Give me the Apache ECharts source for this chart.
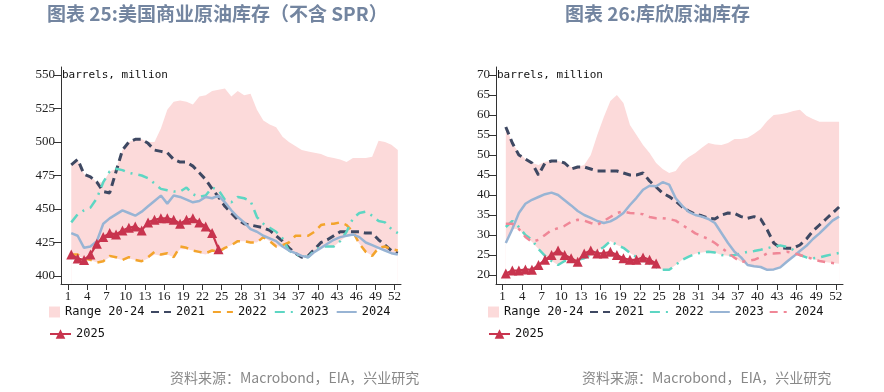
<!DOCTYPE html>
<html><head><meta charset="utf-8">
<script src="https://cdn.jsdelivr.net/npm/echarts@6/dist/echarts.min.js"></script>
<style>html,body{margin:0;padding:0;background:#fff}#c{width:884px;height:392px}</style>
</head><body><div id="c"></div>
<script>
// ---------- data ----------
const xTickLabels = [1,4,7,10,13,16,19,22,25,28,31,34,37,40,43,46,49,52];
const yTicksLeft = [400,425,450,475,500,525,550];
const yTicksRight = [20,25,30,35,40,45,50,55,60,65,70];

// Chart 25: US commercial crude stocks (ex SPR), million barrels
const L_rangeLow = [415,415,413,412,410,411,414,413,412,413,412,411,413,416,415,416,414,420,420,419,417,416,418,418,
  421,423,426,426,425,425,429,426,422,422,419,416,414,414,418,421,422,422,426,430,431,424,418,415,421,419,417,416];
const L_rangeHigh = [483,487,476,474,470,470,478,480,494,500,502,502,500,500,510,524,530,531,530,528,534,535,538,539,
  540,534,538,535,536,524,516,513,511,504,500,497,494,493,492,491,489,488,487,485,488,488,488,489,501,500,498,494];
const L_2021 = [483,487,476,474,470,463,462,478,494,500,502,502,499,494,493,492,487,485,485,482,477,472,465,459,
  452,447,442,439,438,437,436,434,430,426,421,417,414,415,420,425,427,430,433,433,433,433,432,432,427,423,419,417];
const L_2022 = [416,416,413,412,410,411,415,414,412,414,412,411,414,418,416,417,414,422,421,419,418,417,419,418,
  421,423,426,426,425,425,429,426,422,423,425,430,430,430,433,438,439,439,440,438,433,424,418,415,421,422,420,419];
const L_2023 = [440,446,449,451,458,470,478,480,479,477,476,475,473,469,465,464,463,463,466,461,459,460,466,464,
  457,455,459,458,456,444,439,436,433,428,419,416,415,414,419,422,422,422,426,433,443,447,448,445,441,440,435,432];
const L_2024 = [432,430,421,422,426,439,443,446,449,447,445,448,452,456,460,454,460,459,457,455,456,459,458,460,
  455,449,444,440,435,433,430,428,426,422,419,417,415,414,418,421,424,427,429,430,431,429,425,423,421,419,417,416];
const L_2025 = [416,413,412,416,424,429,432,431,434,436,437,434,440,442,443,443,442,439,442,443,440,437,432,420];

// Chart 26: Cushing crude stocks, million barrels
const R_rangeLow = [28,31.5,31.5,29.5,28.3,26.5,24.8,23.5,22.5,23.5,23.8,23.8,24.2,25,26,27,28.5,27.5,26.8,25.5,
  24.5,23.8,22.8,22,21.3,21.3,22.5,23.8,24.6,25.3,25.6,25.8,25.6,25,24.8,24.3,23.3,22.5,22.2,22,
  21.3,21.4,21.9,23.3,24.6,25,24.4,24,23.5,23.2,23,22.8];
const R_rangeHigh = [57,53,50.5,49,48,47.5,48.3,48.5,48.5,48,47,47,47.5,50,55,59.5,63.5,65,63,57.5,
  55,52.5,50.5,48,46.5,45.5,46,48.2,49.5,50.5,51.8,53,52.6,52.5,53,54,54,54.3,55.3,56.5,
  58.5,60,60.2,60.5,61,61.3,59.8,59,58.3,58.3,58.3,58.3];
const R_2021 = [57,53,50,49,48,45,48,48.5,48.5,48,46.5,47,47,46.5,46,46,46,46,45.5,45,
  45,45.5,43.5,42,40.5,39.6,38.5,37,36,35.2,34.8,34.2,34,35,35.5,35.4,34.6,34.2,34.6,34,
  31.3,28,26.8,26.7,26.7,27.5,29,31,32.5,34,35.5,37];
const R_2022 = [32,33.5,32,30,28.8,26.5,24.8,23.5,22.5,23.5,23.8,23.8,24.2,25,26,27,28.5,27.5,26.8,25.5,
  24.5,23.8,22.8,22,21.3,21.3,22.5,23.8,24.6,25.3,25.6,25.8,25.6,25,24.8,25,25.4,25.8,26,26.3,
  26.7,27.1,27.4,27,26.3,25,24.4,24.2,24.4,24.8,25.2,25.5];
const R_2023 = [28,31.5,35.5,37.8,38.8,39.5,40.2,40.6,40,38.7,37.4,36,35,34.3,33.5,33,33.4,34.3,35.5,37.5,
  39.3,41.3,42.3,42.2,43.2,42.6,39.2,37.3,35.8,35,34.6,34,33,30.5,28,25.8,24.4,22.5,22.2,22,
  21.3,21.4,21.9,23.3,24.6,26,27.3,29,30.4,32,33.6,34.6];
const R_2024 = [32.8,32.8,31.5,29.5,28.3,28.8,30,31.2,31.7,32.3,33.3,33.8,33.6,33,32.5,33.5,34.5,35.5,35.9,35.5,
  35.4,35.2,34.5,34.2,34.2,34,33.6,32.5,31.5,30.4,29.7,29,28,26.8,25.6,24.3,23.3,23.5,23.8,24.5,
  25.4,25.4,25.5,25.8,25.5,25,24.5,24,23.5,23.2,23,22.8];
const R_2025 = [20.4,21.1,21.1,21.4,21.3,22.5,23.8,25,26.1,25,24.2,23.3,25.4,26.1,25.4,25.4,25.8,25,24.2,23.8,23.8,24.4,23.8,22.9];

// ---------- styles ----------
const C = {
  range:'#fcdada', navy:'#3e4862', orange:'#f3a42c', teal:'#5dd6c3', blue:'#98b4d4', pink:'#f08797', red:'#c8344e'
};
const pairs = a => a.map((v,i)=>[i+1,v]);
const tickPos = xTickLabels.map(v=>v-0.5);
const axisFont = {fontFamily:'Liberation Serif', fontSize:13, color:'#222'};
const legFont = {fontFamily:'DejaVu Sans Mono', fontSize:12, color:'#111'};

function xAxis(gi, min, max){
  return {type:'value', gridIndex:gi, min:min, max:max, z:10,
    axisLine:{show:true, onZero:false, lineStyle:{color:'#333', width:1}},
    axisTick:{show:true, length:6, customValues:tickPos, lineStyle:{color:'#333'}},
    axisLabel:Object.assign({customValues:tickPos, margin:6, formatter:v=>String(Math.round(v+0.5))}, axisFont),
    splitLine:{show:false}};
}
function yAxis(gi, min, max, ticks){
  return {type:'value', gridIndex:gi, min:min, max:max, z:10,
    axisLine:{show:true, onZero:false, lineStyle:{color:'#333', width:1}},
    axisTick:{show:true, length:7, customValues:ticks, lineStyle:{color:'#333'}},
    axisLabel:Object.assign({customValues:ticks, margin:6}, axisFont),
    splitLine:{show:false}};
}
// Range band: upper bound filled pink to axis floor, lower bound filled white on top of it
function band(gi, low, high, name){
  return [
    {type:'line', name:name, xAxisIndex:gi, yAxisIndex:gi, data:pairs(high), symbol:'none', silent:true,
      color:C.range, lineStyle:{width:0, opacity:0}, areaStyle:{color:C.range, opacity:1, origin:'start'}, z:1},
    {type:'line', xAxisIndex:gi, yAxisIndex:gi, data:pairs(low), symbol:'none', silent:true,
      color:'#fff', lineStyle:{width:0, opacity:0}, areaStyle:{color:'#fff', opacity:1, origin:'start'}, z:2}
  ];
}
function line(gi, name, arr, color, type, width){
  return {type:'line', name:name, xAxisIndex:gi, yAxisIndex:gi, data:pairs(arr), symbol:'none', color:color,
    lineStyle:{color:color, width:width, type:type}, z:3};
}
function y25(gi, name, arr){
  return {type:'line', name:name, xAxisIndex:gi, yAxisIndex:gi, data:pairs(arr), symbol:'triangle', symbolSize:10,
    color:C.red, itemStyle:{color:C.red}, lineStyle:{color:C.red, width:2.2}, z:5};
}

const series = [].concat(
  band(0, L_rangeLow, L_rangeHigh, 'Range 20-24'),
  [line(0,'2021',L_2021,C.navy,[8,5],3),
   line(0,'2022',L_2022,C.orange,[8,6],2.5),
   line(0,'2023',L_2023,C.teal,[10,6,2,6],2.5),
   line(0,'2024',L_2024,C.blue,'solid',2.5),
   y25(0,'2025',L_2025)],
  band(1, R_rangeLow, R_rangeHigh, 'Range 20-24 '),
  [line(1,'2021 ',R_2021,C.navy,[8,5],3),
   line(1,'2022 ',R_2022,C.teal,[10,6,2,6],2.5),
   line(1,'2023 ',R_2023,C.blue,'solid',2.5),
   line(1,'2024 ',R_2024,C.pink,[8,6,3,6],2.5),
   y25(1,'2025 ',R_2025)]
);

function legendRow(left, top, names, opts){
  return Object.assign({left:left, top:top, padding:0, textStyle:legFont, selectedMode:false, data:names}, opts);
}
const lineLeg = {itemWidth:20, itemHeight:10, itemStyle:{opacity:0}};
const titleFont = 'bold 19px "Noto Sans CJK SC"';

const option = {
  animation:false,
  backgroundColor:'#fff',
  grid:[
    {left:61, top:67, width:340, height:217},
    {left:496, top:67, width:347, height:217}
  ],
  xAxis:[xAxis(0,-0.6,52.5), xAxis(1,-0.5,52.6)],
  yAxis:[yAxis(0,394,556,yTicksLeft), yAxis(1,17.75,72,yTicksRight)],
  legend:[
    legendRow(49,306,['Range 20-24'],{itemWidth:11,itemHeight:11,icon:'rect'}),
    legendRow(150,306,['2021','2022','2023','2024'],Object.assign({itemGap:7},lineLeg)),
    legendRow(49,328,['2025'],{itemWidth:21,itemHeight:12}),
    legendRow(488,306,['Range 20-24 '],{itemWidth:11,itemHeight:11,icon:'rect',
      formatter:n=>n.trim()}),
    legendRow(589,306,['2021 ','2022 ','2023 ','2024 '],Object.assign({itemGap:5, formatter:n=>n.trim()},lineLeg)),
    legendRow(488,328,['2025 '],{itemWidth:21,itemHeight:12, formatter:n=>n.trim()})
  ],
  series:series,
  graphic:[
    {type:'text', left:47, top:4, style:{text:'图表 25:美国商业原油库存（不含 SPR）', font:titleFont, fill:'#7385a0'}},
    {type:'text', left:565, top:4, style:{text:'图表 26:库欣原油库存', font:titleFont, fill:'#7385a0'}},
    {type:'text', left:62, top:70, z:20, style:{text:'barrels, million', font:'11px "DejaVu Sans Mono"', fill:'#111'}},
    {type:'text', left:497, top:70, z:20, style:{text:'barrels, million', font:'11px "DejaVu Sans Mono"', fill:'#111'}},
    {type:'text', left:170, top:371, style:{text:'资料来源：Macrobond，EIA，兴业研究', font:'14px "Noto Sans CJK SC"', fill:'#888'}},
    {type:'text', left:582, top:371, style:{text:'资料来源：Macrobond，EIA，兴业研究', font:'14px "Noto Sans CJK SC"', fill:'#888'}}
  ]
};
const chart = echarts.init(document.getElementById('c'));
chart.setOption(option);
</script></body></html>
